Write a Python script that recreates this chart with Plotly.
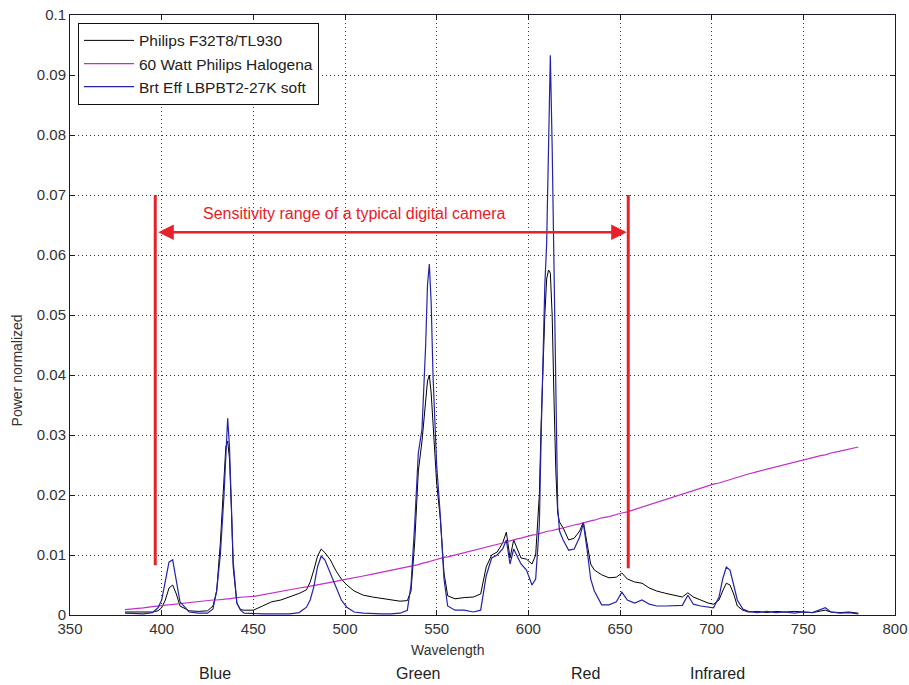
import plotly.graph_objects as go

# ---------------- data ----------------
wavelength = [380, 385, 390, 395, 398, 400, 402, 404, 406, 408, 410, 415, 420, 425, 428, 430, 432, 434, 435, 436,
              437, 438, 439, 441, 443, 445, 450, 455, 460, 465, 470, 475, 479, 481, 483, 485, 487, 489, 492, 495,
              498, 501, 505, 510, 515, 520, 525, 530, 534, 536, 538, 540, 542, 544, 545, 546, 547, 548, 550, 552,
              554, 556, 560, 565, 570, 574, 577, 580, 583, 586, 588, 590, 592, 594, 596, 599, 602, 604, 606, 607,
              608, 609, 610, 611, 612, 613, 614, 615, 616, 617, 619, 622, 625, 628, 630, 632, 634, 636, 640, 644,
              648, 651, 654, 658, 662, 666, 670, 675, 680, 684, 687, 690, 694, 698, 701, 704, 706, 708, 710, 712,
              714, 717, 720, 725, 730, 735, 740, 745, 750, 755, 760, 762, 765, 770, 775, 780]

philips_f32t8 = [0.0005, 0.0005, 0.0004, 0.0005, 0.0007, 0.0012, 0.0025, 0.0045, 0.005, 0.0035, 0.0015, 0.0007, 0.0006, 0.0007, 0.0015, 0.004, 0.012, 0.024, 0.028, 0.029,
                 0.026, 0.018, 0.008, 0.002, 0.0009, 0.0008, 0.0008, 0.0015, 0.0022, 0.0025, 0.003, 0.0036, 0.0042, 0.0055, 0.0075, 0.0098, 0.0110, 0.0104, 0.0092, 0.0074,
                 0.0060, 0.0050, 0.0040, 0.0033, 0.0030, 0.0028, 0.0026, 0.0023, 0.0024, 0.004, 0.012, 0.024, 0.029, 0.036, 0.039, 0.040, 0.037, 0.032, 0.022, 0.016,
                 0.007, 0.0032, 0.0027, 0.0029, 0.003, 0.0035, 0.008, 0.010, 0.0105, 0.012, 0.0138, 0.0095, 0.0125, 0.011, 0.0095, 0.0093, 0.0085, 0.010, 0.020, 0.032,
                 0.042, 0.050, 0.056, 0.0575, 0.057, 0.050, 0.036, 0.024, 0.017, 0.0155, 0.0145, 0.0125, 0.0128, 0.014, 0.0155, 0.012, 0.0085, 0.0075, 0.0067, 0.0062,
                 0.0063, 0.0070, 0.0060, 0.0055, 0.0053, 0.0045, 0.0040, 0.0036, 0.0033, 0.0030, 0.0037, 0.0030, 0.0025, 0.0020, 0.0018, 0.0025, 0.0040, 0.0053, 0.0050, 0.0035,
                 0.0015, 0.0008, 0.0005, 0.0006, 0.0004, 0.0006, 0.0005, 0.0006, 0.0005, 0.0004, 0.0007, 0.0008, 0.0005, 0.0004, 0.0005, 0.0003]

halogen_60w = [0.0009, 0.0010, 0.0012, 0.0014, 0.0015, 0.0016, 0.0017, 0.0017, 0.0018, 0.0019, 0.0019, 0.0021, 0.0022, 0.0024, 0.0025, 0.0025, 0.0026, 0.0026, 0.0027, 0.0027,
               0.0027, 0.0028, 0.0028, 0.0029, 0.0029, 0.0030, 0.0031, 0.0034, 0.0036, 0.0039, 0.0042, 0.0045, 0.0047, 0.0048, 0.0049, 0.0050, 0.0051, 0.0052, 0.0054, 0.0056,
               0.0058, 0.0060, 0.0062, 0.0065, 0.0068, 0.0071, 0.0074, 0.0077, 0.0080, 0.0081, 0.0083, 0.0084, 0.0086, 0.0087, 0.0088, 0.0089, 0.0090, 0.0091, 0.0093, 0.0094,
               0.0096, 0.0097, 0.0100, 0.0104, 0.0107, 0.0110, 0.0113, 0.0115, 0.0118, 0.0120, 0.0122, 0.0124, 0.0125, 0.0127, 0.0128, 0.0131, 0.0133, 0.0134, 0.0136, 0.0137,
               0.0137, 0.0138, 0.0139, 0.0140, 0.0140, 0.0141, 0.0142, 0.0143, 0.0143, 0.0144, 0.0145, 0.0148, 0.0150, 0.0152, 0.0154, 0.0155, 0.0157, 0.0158, 0.0162, 0.0164,
               0.0168, 0.0170, 0.0172, 0.0176, 0.0180, 0.0184, 0.0188, 0.0192, 0.0197, 0.0201, 0.0204, 0.0207, 0.0211, 0.0215, 0.0218, 0.0220, 0.0222, 0.0224, 0.0225, 0.0227,
               0.0229, 0.0232, 0.0235, 0.0239, 0.0243, 0.0247, 0.0250, 0.0254, 0.0258, 0.0262, 0.0266, 0.0267, 0.0270, 0.0273, 0.0277, 0.0280]

brt_eff_lbpbt2 = [0.0003, 0.0003, 0.0002, 0.0004, 0.0012, 0.0025, 0.0055, 0.0088, 0.0092, 0.0060, 0.0022, 0.0005, 0.0003, 0.0003, 0.0010, 0.0040, 0.0100, 0.0200, 0.0260, 0.0328,
                  0.0280, 0.0190, 0.0090, 0.0020, 0.0008, 0.0003, 0.0002, 0.0002, 0.0002, 0.0002, 0.0002, 0.0004, 0.0013, 0.0025, 0.0047, 0.0080, 0.0098, 0.0092, 0.0070, 0.0045,
                  0.0025, 0.0013, 0.0005, 0.0003, 0.0002, 0.0002, 0.0002, 0.0003, 0.0008, 0.0050, 0.0150, 0.0270, 0.0310, 0.0450, 0.0550, 0.0585, 0.0520, 0.0400, 0.0250, 0.0165,
                  0.0060, 0.0015, 0.0008, 0.0008, 0.0005, 0.0008, 0.0065, 0.0095, 0.0100, 0.0110, 0.0125, 0.0085, 0.0110, 0.0098, 0.0085, 0.0075, 0.0050, 0.0060, 0.0150, 0.0300,
                  0.0450, 0.0550, 0.0620, 0.0800, 0.0933, 0.0780, 0.0600, 0.0350, 0.0180, 0.0140, 0.0125, 0.0108, 0.0110, 0.0130, 0.0153, 0.0110, 0.0060, 0.0040, 0.0017, 0.0017,
                  0.0022, 0.0038, 0.0025, 0.0020, 0.0025, 0.0018, 0.0015, 0.0015, 0.0015, 0.0016, 0.0033, 0.0018, 0.0015, 0.0013, 0.0012, 0.0030, 0.0060, 0.0080, 0.0075, 0.0050,
                  0.0025, 0.0010, 0.0006, 0.0004, 0.0006, 0.0004, 0.0005, 0.0003, 0.0005, 0.0004, 0.0009, 0.0012, 0.0005, 0.0003, 0.0004, 0.0002]

series_names = ["Philips F32T8/TL930", "60 Watt Philips Halogena", "Brt Eff LBPBT2-27K soft"]

x_ticks = [350, 400, 450, 500, 550, 600, 650, 700, 750, 800]
y_ticks = [0, 0.01, 0.02, 0.03, 0.04, 0.05, 0.06, 0.07, 0.08, 0.09, 0.1]
y_tick_labels = ["0", "0.01", "0.02", "0.03", "0.04", "0.05", "0.06", "0.07", "0.08", "0.09", "0.1"]

band_labels = ["Blue", "Green", "Red", "Infrared"]
band_positions = [429, 540, 631, 703]

camera_text = "Sensitivity range of a typical digital camera"
camera_range = [396.5, 654.5]

x_title = "Wavelength"
y_title = "Power normalized"

# ---------------- figure ----------------
FONT = "Liberation Sans, Arial, sans-serif"
RED = "#e8202a"
TXT = "#333333"

fig = go.Figure()
fig.add_trace(go.Scatter(x=wavelength, y=philips_f32t8, mode="lines", name=series_names[0],
                         line=dict(color="#000000", width=1)))
fig.add_trace(go.Scatter(x=wavelength, y=halogen_60w, mode="lines", name=series_names[1],
                         line=dict(color="#c22ec8", width=1.2)))
fig.add_trace(go.Scatter(x=wavelength, y=brt_eff_lbpbt2, mode="lines", name=series_names[2],
                         line=dict(color="#2323a8", width=1.2)))

# red vertical limits
fig.add_shape(type="line", x0=camera_range[0], x1=camera_range[0], y0=0.0083, y1=0.07,
              line=dict(color=RED, width=3))
fig.add_shape(type="line", x0=camera_range[1], x1=camera_range[1], y0=0.0078, y1=0.07,
              line=dict(color=RED, width=3))
# double arrow
fig.add_annotation(x=camera_range[1] - 0.8, y=0.0638, ax=camera_range[0] + 0.8, ay=0.0638,
                   xref="x", yref="y", axref="x", ayref="y", text="", showarrow=True,
                   arrowhead=2, arrowside="end+start", arrowsize=1.3, arrowwidth=2.4,
                   arrowcolor=RED)
fig.add_annotation(x=505, y=0.0670, xref="x", yref="y", text=camera_text, showarrow=False,
                   font=dict(family=FONT, size=16, color=RED))

for lbl, pos in zip(band_labels, band_positions):
    fig.add_annotation(x=pos, y=-0.097, xref="x", yref="paper", text=lbl, showarrow=False,
                       font=dict(family=FONT, size=16, color="#222222"), yanchor="middle")

# axis titles
fig.add_annotation(x=0.457, y=-0.058, xref="paper", yref="paper", text=x_title, showarrow=False,
                   font=dict(family=FONT, size=14, color=TXT), yanchor="middle")
fig.add_annotation(x=-0.064, y=0.408, xref="paper", yref="paper", text=y_title, showarrow=False,
                   textangle=-90, font=dict(family=FONT, size=14, color=TXT), xanchor="center",
                   yanchor="middle")

axis_common = dict(showline=True, linecolor="#1a1a2a", linewidth=1, mirror="ticks",
                   ticks="inside", ticklen=5, tickcolor="#1a1a2a", showgrid=True,
                   gridcolor="#333333", gridwidth=1, griddash="1px,3px", zeroline=False,
                   automargin=False, ticklabeloverflow="allow",
                   tickfont=dict(family=FONT, size=15, color=TXT))

fig.update_xaxes(range=[350, 800], tickvals=x_ticks, ticktext=[str(v) for v in x_ticks],
                 **axis_common)
fig.update_yaxes(range=[0, 0.1], tickvals=y_ticks, ticktext=y_tick_labels,
                 **axis_common)

fig.update_layout(
    width=909, height=685,
    margin=dict(l=70, r=14, t=15, b=70),
    paper_bgcolor="white", plot_bgcolor="white",
    showlegend=True,
    legend=dict(x=0.0097, y=0.987, xanchor="left", yanchor="top",
                bgcolor="white", bordercolor="#111111", borderwidth=1,
                font=dict(family=FONT, size=15.5, color="#222222"),
                tracegroupgap=0, itemwidth=50),
)

# remove the default page margin so the figure fills the window exactly
fig.write_html("out.html", config={"displayModeBar": False},
               post_script="document.body.style.margin='0px';document.body.style.overflow='hidden';")
